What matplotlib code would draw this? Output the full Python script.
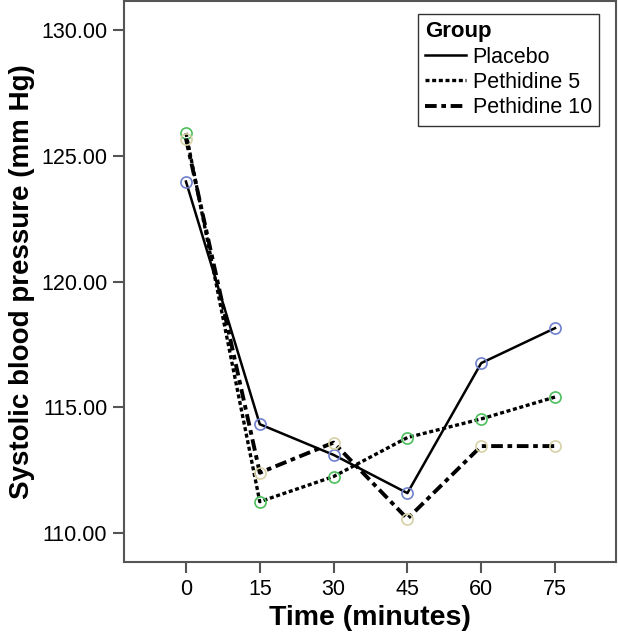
import matplotlib.pyplot as plt

plt.rcParams['font.family'] = ['Liberation Sans', 'DejaVu Sans']

# Data
times = [0, 15, 30, 45, 60, 75]
placebo = [123.98, 114.33, 113.11, 111.59, 116.76, 118.15]
pethidine5 = [125.91, 111.25, 112.25, 113.80, 114.54, 115.41]
pethidine10 = [125.69, 112.40, 113.60, 110.57, 113.46, 113.46]
yticks = [110, 115, 120, 125, 130]

fig = plt.figure(figsize=(6.18, 6.37), dpi=100)
ax = fig.add_axes([0.2006, 0.1177, 0.7962, 0.8808])

ax.plot(times, placebo, color="black", linestyle="-", linewidth=1.8, label="Placebo",
        marker="o", markersize=8, markerfacecolor="none", markeredgecolor="#6f80cc", markeredgewidth=1.2)
ax.plot(times, pethidine5, color="black", linestyle=(0, (1.2, 0.8)), linewidth=2.4, label="Pethidine 5",
        marker="o", markersize=8, markerfacecolor="none", markeredgecolor="#4cbf5c", markeredgewidth=1.2)
ax.plot(times, pethidine10, color="black", linestyle=(0, (3, 1.2, 1.2, 1.2)), linewidth=2.8, label="Pethidine 10",
        marker="o", markersize=8, markerfacecolor="none", markeredgecolor="#d6d2a6", markeredgewidth=1.2)

ax.set_xlim(-12.6, 87.4)
ax.set_ylim(108.85, 131.16)
ax.set_xticks(times)
ax.set_yticks(yticks)
ax.set_yticklabels([f"{v:.2f}" for v in yticks])
ax.tick_params(axis="both", length=8, width=1.5, color="#555555", labelsize=15.5, pad=4)

for s in ax.spines.values():
    s.set_color("#555555")
    s.set_linewidth(1.5)

ax.set_xlabel("Time (minutes)", fontsize=20.5, fontweight="bold", labelpad=4)
ax.set_ylabel("Systolic blood pressure (mm Hg)", fontsize=20, fontweight="bold", labelpad=4)

leg = ax.legend(title="Group", loc="upper right", bbox_to_anchor=(0.975, 0.985), fontsize=15.5,
                title_fontproperties={"weight": "bold", "size": 16}, fancybox=False,
                edgecolor="#333333", framealpha=1, handlelength=1.9, handletextpad=0.3,
                borderpad=0.35, labelspacing=0.2, borderaxespad=0.2)
leg._legend_box.align = "left"
leg.get_frame().set_linewidth(1.0)
# legend handles: lines only, no marker
for h in leg.get_lines():
    h.set_marker("")

fig.savefig("out.png", dpi=100)
